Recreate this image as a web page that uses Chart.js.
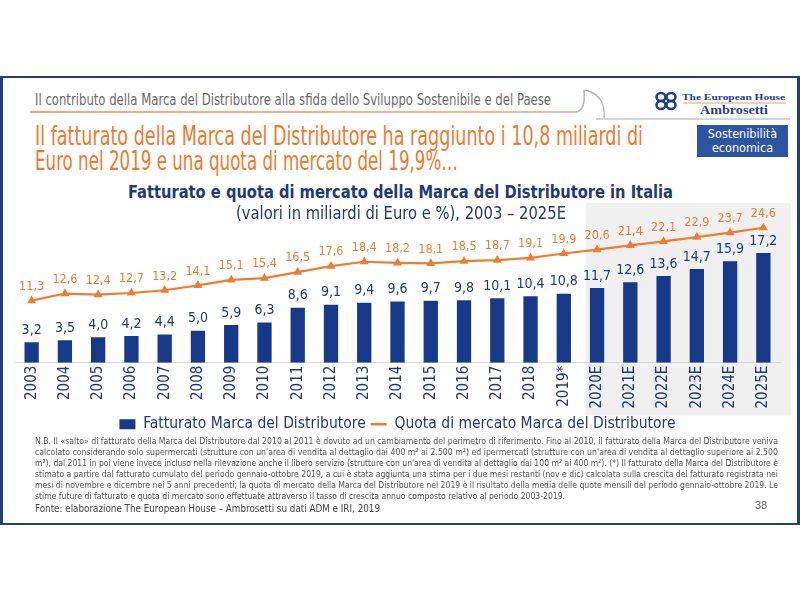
<!DOCTYPE html>
<html><head><meta charset="utf-8">
<script src="https://cdn.jsdelivr.net/npm/chart.js@4"></script>
<style>
body{margin:0;width:800px;height:600px;background:#fff;position:relative;overflow:hidden;font-family:'Liberation Sans Narrow','DejaVu Sans Condensed','Liberation Sans',sans-serif;}
.a{position:absolute;white-space:nowrap;transform-origin:0 50%;}
#frame{position:absolute;left:0;top:76px;width:794px;height:445px;border:2px solid #213f7e;border-left-width:3px;border-right-width:3px;}
.fn{font-family:'Liberation Sans Narrow','DejaVu Sans Condensed',sans-serif;font-size:9.5px;color:#555;line-height:11px;}
#chartwrap{position:absolute;left:0;top:195px;width:800px;height:247px;}
</style></head>
<body>
<div id="frame"></div>
<svg class="a" style="left:0;top:0" width="800" height="130">
  <defs><linearGradient id="og" x1="0" x2="1"><stop offset="0" stop-color="#ef8a4a"/><stop offset="0.85" stop-color="#efa070"/><stop offset="1" stop-color="#b8b8b8"/></linearGradient></defs>
  <path d="M30 112 L576 112 Q586 110 584 90" fill="none" stroke="url(#og)" stroke-width="1.6"/>
  <path d="M584 90 Q606 94 604 118" fill="none" stroke="#b5b5b5" stroke-width="1.3"/>
  <path d="M596 119 L790 119" fill="none" stroke="#c4c4c4" stroke-width="1.3"/>
  <g fill="none" stroke="#1f3f8a" stroke-width="2.6">
    <ellipse cx="661" cy="97" rx="4.5" ry="4"/><ellipse cx="661" cy="105" rx="4.5" ry="4"/>
    <ellipse cx="671" cy="97" rx="4.5" ry="4"/><ellipse cx="671" cy="105" rx="4.5" ry="4"/>
  </g>
  <path d="M683 103 L786 103" stroke="#e8a060" stroke-width="1"/>
</svg>
<div class="a" data-w="516" style="left:35px;top:92px;font-size:15px;line-height:16px;color:#6a6a6a;">Il contributo della Marca del Distributore alla sfida dello Sviluppo Sostenibile e del Paese</div>
<div class="a" data-w="103" style="left:682px;top:93px;font-family:'Liberation Serif',serif;font-weight:bold;font-size:9px;line-height:9px;color:#1f3f8a;">The European House</div>
<div class="a" data-w="68" style="left:700px;top:104px;font-family:'Liberation Serif',serif;font-weight:bold;font-size:12px;line-height:13px;color:#1f3f8a;">Ambrosetti</div>
<div class="a" style="left:697px;top:125px;width:91px;height:32px;background:#2d54a2;color:#fff;font-size:12.5px;line-height:14px;text-align:center;padding-top:2px;box-sizing:border-box;">Sostenibilità<br>economica</div>
<div class="a" data-w="608" style="left:35px;top:123px;font-size:26px;line-height:26px;color:#ee7a2e;">Il fatturato della Marca del Distributore ha raggiunto i 10,8 miliardi di</div>
<div class="a" data-w="423" style="left:35px;top:148px;font-size:26px;line-height:26px;color:#ee7a2e;">Euro nel 2019 e una quota di mercato del 19,9%…</div>
<div class="a" data-w="545" style="left:128px;top:183px;font-family:'DejaVu Sans Condensed','DejaVu Sans',sans-serif;font-weight:bold;font-size:17px;line-height:18px;color:#1f3a78;">Fatturato e quota di mercato della Marca del Distributore in Italia</div>

<div id="chartwrap"><canvas id="c" width="800" height="247"></canvas></div>
<div class="a" data-w="330" style="left:236px;top:204px;font-family:'DejaVu Sans Condensed','DejaVu Sans',sans-serif;font-size:17px;line-height:18px;color:#1f3a78;">(valori in miliardi di Euro e %), 2003 – 2025E</div>

<div class="a fn" data-w="743" style="left:35px;top:435px;">N.B. Il «salto» di fatturato della Marca del Distributore dal 2010 al 2011 è dovuto ad un cambiamento del perimetro di riferimento. Fino al 2010, il fatturato della Marca del Distributore veniva</div>
<div class="a fn" data-w="743" style="left:35px;top:446px;">calcolato considerando solo supermercati (strutture con un'area di vendita al dettaglio dai 400 m² ai 2.500 m²) ed ipermercati (strutture con un'area di vendita al dettaglio superiore ai 2.500</div>
<div class="a fn" data-w="743" style="left:35px;top:457px;">m²), dal 2011 in poi viene invece incluso nella rilevazione anche il libero servizio (strutture con un'area di vendita al dettaglio dai 100 m² ai 400 m²). (*) Il fatturato della Marca del Distributore è</div>
<div class="a fn" data-w="743" style="left:35px;top:468px;">stimato a partire dal fatturato cumulato del periodo gennaio-ottobre 2019, a cui è stata aggiunta una stima per i due mesi restanti (nov e dic) calcolata sulla crescita del fatturato registrata nei</div>
<div class="a fn" data-w="743" style="left:35px;top:479px;">mesi di novembre e dicembre nei 5 anni precedenti; la quota di mercato della Marca del Distributore nel 2019 è il risultato della media delle quote mensili del periodo gennaio-ottobre 2019. Le</div>
<div class="a fn" id="lastfn" style="left:35px;top:490px;">stime future di fatturato e quota di mercato sono effettuate attraverso il tasso di crescita annuo composto relativo al periodo 2003-2019.</div>
<div class="a" data-w="345" style="left:35px;top:502px;font-family:'DejaVu Sans Condensed','DejaVu Sans',sans-serif;font-size:11px;line-height:13px;color:#444;">Fonte: elaborazione The European House – Ambrosetti su dati ADM e IRI, 2019</div>
<div class="a" style="left:755px;top:499px;font-family:'Liberation Sans Narrow',sans-serif;font-size:11px;line-height:12px;color:#666;">38</div>

<script>
// ---- data ----
const years = ['2003','2004','2005','2006','2007','2008','2009','2010','2011','2012','2013','2014','2015','2016','2017','2018','2019*','2020E','2021E','2022E','2023E','2024E','2025E'];
const fatturato = [3.2,3.5,4.0,4.2,4.4,5.0,5.9,6.3,8.6,9.1,9.4,9.6,9.7,9.8,10.1,10.4,10.8,11.7,12.6,13.6,14.7,15.9,17.2];
const quota = [11.3,12.6,12.4,12.7,13.2,14.1,15.1,15.4,16.5,17.6,18.4,18.2,18.1,18.5,18.7,19.1,19.9,20.6,21.4,22.1,22.9,23.7,24.6];
const seriesNames = ['Fatturato Marca del Distributore','Quota di mercato Marca del Distributore'];
const firstEstimate = '2020E';

// fit text widths
let fnScale = 1;
document.querySelectorAll('[data-w]').forEach(el => {
  const w = el.getBoundingClientRect().width;
  const s = parseFloat(el.dataset.w) / w;
  el.style.transform = 'scaleX(' + s + ')';
  if (el.classList.contains('fn')) fnScale = s;
});
document.getElementById('lastfn').style.transform = 'scaleX(' + fnScale + ')';

const NAVY = '#16398a', ORANGE = '#ee7d31', TXT = '#1f3a78';
const fmt = v => v.toFixed(1).replace('.', ',');

const bgPlugin = {
  id: 'estimateBg',
  beforeDraw(chart) {
    const x = chart.scales.x, ca = chart.chartArea, ctx = chart.ctx;
    const i0 = years.indexOf(firstEstimate), i1 = years.length - 1;
    const w = x.getPixelForValue(1) - x.getPixelForValue(0);
    const left = x.getPixelForValue(i0) - 0.34 * w;
    const right = x.getPixelForValue(i1) + 0.82 * w;
    ctx.save();
    ctx.fillStyle = '#f0f0f0';
    ctx.fillRect(left, ca.top - 22, right - left, ca.bottom - ca.top + 75);
    ctx.restore();
  }
};
const labelPlugin = {
  id: 'valueLabels',
  afterDatasetsDraw(chart) {
    const ctx = chart.ctx;
    ctx.save();
    ctx.textAlign = 'center';
    ctx.textBaseline = 'middle';
    chart.data.datasets.forEach((ds, di) => {
      const meta = chart.getDatasetMeta(di);
      meta.data.forEach((el, i) => {
        if (di === 0) {
          ctx.font = '14px "DejaVu Sans Condensed", "DejaVu Sans", sans-serif';
          ctx.fillStyle = TXT;
          ctx.fillText(fmt(ds.data[i]), el.x, el.y - 12);
        } else {
          ctx.font = '12.5px "DejaVu Sans Condensed", "DejaVu Sans", sans-serif';
          ctx.fillStyle = ORANGE;
          ctx.fillText(fmt(ds.data[i]), el.x, el.y - 14);
        }
      });
    });
    ctx.restore();
  }
};

new Chart(document.getElementById('c'), {
  data: {
    labels: years,
    datasets: [
      { type: 'bar', label: seriesNames[0], data: fatturato, backgroundColor: NAVY, yAxisID: 'y',
        barPercentage: 0.43, categoryPercentage: 1, order: 2, pointStyle: 'rect' },
      { type: 'line', label: seriesNames[1], data: quota, borderColor: ORANGE, backgroundColor: ORANGE,
        borderWidth: 2.2, pointStyle: 'triangle', pointRadius: 3, yAxisID: 'y1', order: 1, clip: false, tension: 0 }
    ]
  },
  options: {
    responsive: false, animation: false,
    layout: { padding: { left: 15, right: 20, top: 30, bottom: 0 } },
    scales: {
      x: { grid: { display: false, drawTicks: false, tickLength: 0 }, border: { display: true, color: '#d9d9d9' },
           ticks: { color: TXT, font: { family: '"DejaVu Sans Condensed", "DejaVu Sans", sans-serif', size: 15 },
                    maxRotation: 90, minRotation: 90, padding: 3, autoSkip: false } },
      y: { display: false, min: 0, max: 21.6 },
      y1: { display: false, min: 0, max: 25.1 }
    },
    plugins: {
      tooltip: { enabled: false },
      legend: { position: 'bottom',
        labels: { color: TXT, font: { family: '"Liberation Sans Narrow", "DejaVu Sans Condensed", sans-serif', size: 15.5 },
          boxWidth: 15, boxHeight: 10, padding: 5,
          generateLabels(chart) {
            return chart.data.datasets.map((ds, i) => ({
              text: ds.label, fillStyle: i === 0 ? NAVY : ORANGE, strokeStyle: i === 0 ? NAVY : ORANGE,
              lineWidth: i === 0 ? 0 : 2.5, pointStyle: i === 0 ? 'rect' : 'line', datasetIndex: i, fontColor: TXT
            }));
          }, usePointStyle: true, pointStyleWidth: 16 } },
      title: { display: false }
    }
  },
  plugins: [bgPlugin, labelPlugin]
});
</script>
</body></html>
